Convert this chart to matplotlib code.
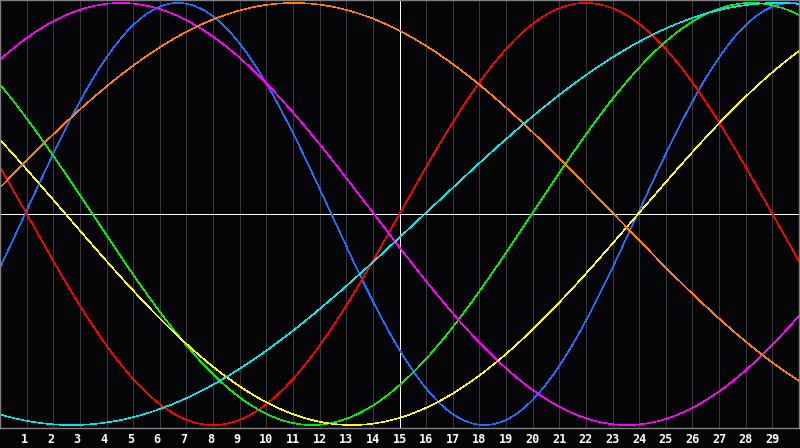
import numpy as np
import matplotlib
matplotlib.use("Agg")
import matplotlib.pyplot as plt

# biorhythm cycles, periods in days, day where each curve crosses zero going up
cycles = ["physical", "emotional", "intellectual", "intuitive", "aesthetic", "awareness", "spiritual"]
periods = [23, 28, 33, 38, 43, 48, 53]
rise_day = [23.94, 15.0, 19.97, -4.96, 23.96, -0.96, 15.94]
colors = ["#1e6eff", "#ff0000", "#00f000", "#ff00ff", "#ffff00", "#ff8000", "#00e8e8"]
days = list(range(1, 30))

fig = plt.figure(figsize=(8, 4.48), dpi=100, facecolor="#050507")
ax = fig.add_axes([0, 20 / 448, 799 / 800, 428 / 448])
ax.set_facecolor("#050507")

for d in days:
    c = "white" if d == 15 else "#383838"
    ax.axvline(d, color=c, lw=0.5, antialiased=False, zorder=1)
ax.axhline(0, color="white", lw=0.5, antialiased=False, zorder=1)

t = np.linspace(0, 30, 1200)
for name, p, z, col in zip(cycles, periods, rise_day, colors):
    ax.plot(t, np.sin(2 * np.pi * (t - z) / p), color=col, lw=0.4,
            antialiased=False, label=name, zorder=2)

ax.set_xlim(0, 30)
ax.set_ylim(-1.014, 1.014)
ax.set_xticks([])
ax.set_yticks([])
for s in ax.spines.values():
    s.set_color("#808080")
    s.set_linewidth(1.0)

for d in days:
    off = -0.1 if d < 10 else 0
    ax.text(d + off, -1.014 - 12 / 214, str(d), color="white", fontsize=8.5,
            fontweight="bold", family="DejaVu Sans Mono", ha="center", va="center",
            clip_on=False)

fig.savefig("out.png", dpi=100, facecolor=fig.get_facecolor())
